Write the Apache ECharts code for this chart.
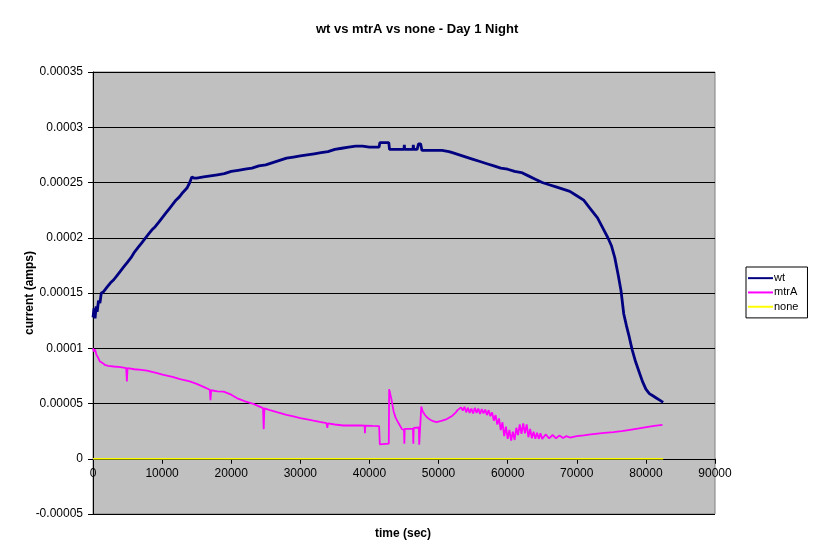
<!DOCTYPE html>
<html>
<head>
<meta charset="utf-8">
<script src="https://cdn.jsdelivr.net/npm/echarts@6/dist/echarts.min.js"></script>
<style>html,body{margin:0;padding:0;background:#fff}#c{width:817px;height:557px}</style>
</head>
<body>
<div id="c"></div>
<script>
var chartTitle = 'wt vs mtrA vs none - Day 1 Night';
var xName = 'time (sec)';
var yName = 'current (amps)';
var seriesNames = ['wt', 'mtrA', 'none'];
var xTicks = [0, 10000, 20000, 30000, 40000, 50000, 60000, 70000, 80000, 90000];
var yTicks = [-0.00005, 0, 0.00005, 0.0001, 0.00015, 0.0002, 0.00025, 0.0003, 0.00035];

var wtData = [
[0,0.000128],[150,0.000136],[300,0.000127],[450,0.000138],[600,0.000133],[800,0.000143],[1000,0.000141],
[1200,0.000150],[1500,0.000151],[2000,0.000155],[2500,0.000159],[3000,0.000162],[3500,0.000166],
[4000,0.000170],[4500,0.000174],[5000,0.000178],[5500,0.000182],[6000,0.000187],[6500,0.000191],
[7000,0.000195],[7500,0.000199],[8000,0.000203],[8500,0.000207],[9000,0.000210],[9500,0.000214],
[10000,0.000218],[10500,0.000222],[11000,0.000226],[11500,0.000230],[12000,0.000234],[12500,0.000237],
[13000,0.000241],[13600,0.000245],[14000,0.000250],[14300,0.000255],[14600,0.000254],[15000,0.000254],
[16000,0.000255],[17000,0.000256],[18000,0.000257],[19000,0.000258],[20000,0.000260],[21000,0.000261],
[22000,0.000262],[23000,0.000263],[24000,0.000265],[25000,0.000266],[26000,0.000268],[27000,0.000270],
[28000,0.000272],[29000,0.000273],[30000,0.000274],[31000,0.000275],[32000,0.000276],[33000,0.000277],
[34000,0.000278],[35000,0.000280],[36000,0.000281],[37000,0.000282],[38000,0.000283],[39000,0.000283],
[40000,0.000282],[41400,0.000282],[41500,0.000286],[42800,0.000286],[42900,0.000280],[44000,0.000280],
[45000,0.000280],[45050,0.000284],[45100,0.000280],[46300,0.000280],[46350,0.000284],[46400,0.000280],
[46900,0.000280],[47100,0.000285],[47400,0.000285],[47600,0.000279],[48500,0.000279],[49500,0.000279],
[50500,0.000279],[51500,0.000278],[52000,0.000277],[53000,0.000275],[54000,0.000273],[55000,0.000271],
[56000,0.000269],[57000,0.000267],[58000,0.000265],[59000,0.000263],[60000,0.000262],[61000,0.000260],
[62000,0.000259],[63000,0.000256],[64000,0.000253],[65000,0.000250],[66000,0.000248],[67000,0.000246],
[68000,0.000244],[69000,0.000242],[70000,0.000238],[71000,0.000234],[72000,0.000226],[73000,0.000218],
[74000,0.000206],[74500,0.000200],[75000,0.000193],[75500,0.000182],[76000,0.000166],[76400,0.000152],
[76800,0.000131],[77200,0.000120],[77600,0.000110],[78000,0.000099],[78500,0.000088],[79000,0.000079],
[79500,0.000070],[80000,0.000063],[80500,0.000059],[81000,0.000057],[81500,0.000055],[82000,0.000053],
[82500,0.000051]
];

var mtrAData = [
[0,0.000100],[150,0.000097],[300,0.000099],[500,0.000094],[700,0.000092],[1000,0.000088],[1300,0.000087],
[1700,0.000085],[2200,0.000084],[3000,0.0000835],[4000,0.000083],[4800,0.000082],[4900,0.000070],
[5000,0.000082],[6000,0.000081],[7000,0.0000805],[7800,0.0000798],[9000,0.000078],[10200,0.000076],
[11500,0.000074],[12600,0.000072],[14000,0.000070],[15000,0.0000678],[16000,0.000065],[16900,0.0000624],
[17000,0.000053],[17100,0.000062],[18000,0.000061],[18900,0.0000608],[20000,0.000058],[20800,0.0000549],
[22000,0.000052],[23200,0.0000497],[24600,0.0000458],[24700,0.0000268],[24800,0.0000456],[25600,0.000044],
[26600,0.0000422],[28000,0.0000398],[29000,0.0000383],[30000,0.0000368],[31000,0.0000356],[31900,0.0000344],
[32800,0.0000333],[33800,0.0000323],[33900,0.000028],[34000,0.000032],[35000,0.000031],[36200,0.0000301],
[37500,0.0000301],[38600,0.0000301],[39300,0.0000300],[39350,0.0000232],[39400,0.0000300],[40500,0.0000297],
[41400,0.0000295],[41500,0.0000130],[42800,0.0000136],[42850,0.000063],[43200,0.0000533],[43500,0.0000428],
[43800,0.000037],[44200,0.0000323],[44700,0.0000268],[45000,0.0000262],[45050,0.0000136],[45100,0.0000270],
[46300,0.0000271],[46350,0.0000136],[46400,0.0000280],[47150,0.0000283],[47200,0.0000127],[47450,0.0000127],
[47500,0.0000473],[47700,0.000043],[48000,0.0000398],[48400,0.000037],[48800,0.0000353],[49200,0.000034],
[49700,0.0000332],[50400,0.0000342],[51200,0.0000359],[52000,0.000039],[52500,0.0000420],[52750,0.0000440],
[53000,0.0000430],[53250,0.0000465],[53500,0.0000435],[53750,0.0000470],[54000,0.0000420],[54250,0.0000460],
[54500,0.0000415],[54750,0.0000455],[55000,0.0000410],[55250,0.0000460],[55500,0.0000415],[55750,0.0000455],
[56000,0.0000405],[56250,0.0000450],[56500,0.0000410],[56750,0.0000445],[57000,0.0000395],[57250,0.0000440],
[57500,0.0000385],[57750,0.0000420],[58000,0.0000345],[58250,0.0000395],[58500,0.0000310],[58750,0.0000365],
[59000,0.0000260],[59250,0.0000330],[59500,0.0000205],[59750,0.0000290],[60000,0.0000180],[60250,0.0000260],
[60500,0.0000165],[60750,0.0000245],[61000,0.0000170],[61250,0.0000280],[61500,0.0000215],[61750,0.0000310],
[62000,0.0000225],[62250,0.0000320],[62500,0.0000230],[62750,0.0000310],[63000,0.0000195],[63250,0.0000270],
[63500,0.0000185],[63750,0.0000245],[64000,0.0000180],[64250,0.0000235],[64500,0.0000180],[64750,0.0000230],
[65000,0.0000180],[65500,0.0000220],[66000,0.0000185],[66500,0.0000215],[67000,0.0000185],[67500,0.0000210],
[68000,0.0000188],[68500,0.0000205],[69000,0.0000192],[70000,0.0000205],[71000,0.0000211],[72000,0.0000220],
[73000,0.0000228],[74000,0.0000234],[75300,0.0000241],[76500,0.0000250],[77700,0.0000262],[79000,0.0000275],
[80100,0.0000287],[81200,0.0000297],[82400,0.0000307]
];

var noneData = [
[0,0],[10000,0],[20000,0],[30000,0],[40000,0],[50000,0],[60000,0],[70000,0],[80000,0],[82500,0]
];

var FONT = '"Liberation Sans", Arial, sans-serif';
var chart = echarts.init(document.getElementById('c'), null, {renderer: 'canvas'});

function fmt(v) { return parseFloat(Number(v).toPrecision(6)).toString(); }

var gridTop = 72, gridHeight = 442;
var yMin = yTicks[0], yMax = yTicks[yTicks.length - 1];
var zeroOffset = gridHeight * (0 - yMin) / (yMax - yMin);

var option = {
  animation: false,
  backgroundColor: '#ffffff',
  title: [
    {text: chartTitle, left: 311, top: 18,
     textStyle: {fontFamily: FONT, fontSize: 13, fontWeight: 'bold', color: '#000'}},
    {text: xName, left: 370, top: 523,
     textStyle: {fontFamily: FONT, fontSize: 12, fontWeight: 'bold', color: '#000'}}
  ],
  legend: {
    orient: 'vertical', left: 746, top: 267,
    backgroundColor: '#ffffff', borderColor: '#000', borderWidth: 1,
    padding: [4, 9, 4, 2], itemGap: 0, itemWidth: 25, itemHeight: 2,
    icon: 'rect',
    textStyle: {fontFamily: FONT, fontSize: 11, color: '#000', lineHeight: 14.3, padding: [0, 0, 0, -4]},
    data: seriesNames
  },
  grid: {left: 93, top: gridTop, width: 622, height: gridHeight, show: true,
         backgroundColor: '#C0C0C0', borderColor: '#808080', borderWidth: 1},
  xAxis: {
    type: 'value', min: xTicks[0], max: xTicks[xTicks.length - 1], interval: xTicks[1] - xTicks[0],
    offset: -zeroOffset,
    axisLine: {onZero: false, lineStyle: {color: '#000', width: 1}},
    axisTick: {show: true, length: 5, lineStyle: {color: '#000'}},
    axisLabel: {fontFamily: FONT, fontSize: 12, color: '#000', margin: 9,
      formatter: function (v) { return String(v); }},
    splitLine: {show: false}
  },
  yAxis: {
    type: 'value', min: yMin, max: yMax, interval: yTicks[1] - yTicks[0],
    name: yName, nameLocation: 'middle', nameRotate: 90, nameGap: 57, nameMoveOverlap: false,
    nameTextStyle: {fontFamily: FONT, fontSize: 12, fontWeight: 'bold', color: '#000'},
    axisLine: {show: true, onZero: false, lineStyle: {color: '#000', width: 1}},
    axisTick: {show: true, length: 5, lineStyle: {color: '#000'}},
    axisLabel: {fontFamily: FONT, fontSize: 12, color: '#000', margin: 10, formatter: fmt},
    splitLine: {show: true, lineStyle: {color: '#000', width: 1}}
  },
  series: [
    {name: seriesNames[0], type: 'line', data: wtData, showSymbol: false, symbol: 'none',
     lineStyle: {color: '#000080', width: 2.8}, itemStyle: {color: '#000080'}},
    {name: seriesNames[1], type: 'line', data: mtrAData, showSymbol: false, symbol: 'none',
     lineStyle: {color: '#FF00FF', width: 1.8}, itemStyle: {color: '#FF00FF'}},
    {name: seriesNames[2], type: 'line', data: noneData, showSymbol: false, symbol: 'none',
     lineStyle: {color: '#FFFF00', width: 1.5}, itemStyle: {color: '#FFFF00'}}
  ]
};
chart.setOption(option);
</script>
</body>
</html>
